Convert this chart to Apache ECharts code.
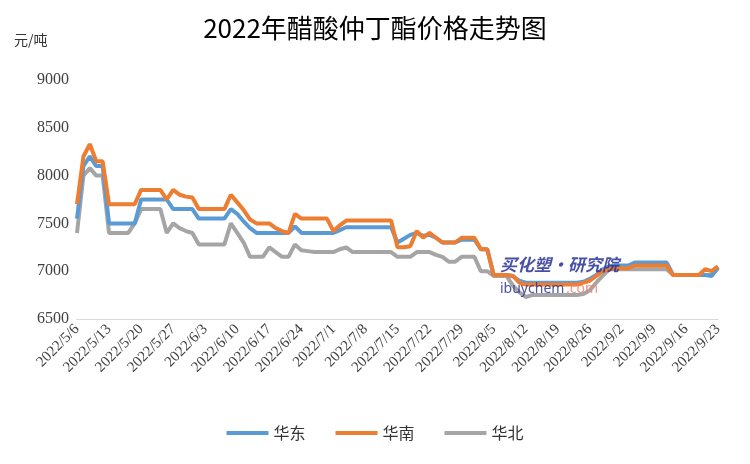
<!DOCTYPE html>
<html><head><meta charset="utf-8">
<script src="https://cdn.jsdelivr.net/npm/echarts@6/dist/echarts.min.js"></script>
<style>html,body{margin:0;padding:0;background:#fff}#c{width:750px;height:464px}</style>
</head><body><div id="c"></div>
<script>
const startDate = '2022-05-06';
const pointCount = 101;
const yTicks = [6500, 7000, 7500, 8000, 8500, 9000];
const huadong = [7550,8100,8200,8100,8100,7500,7500,7500,7500,7500,
7750,7750,7750,7750,7750,7650,7650,7650,7650,7550,
7550,7550,7550,7550,7650,7600,7520,7450,7400,7400,
7400,7400,7400,7400,7470,7400,7400,7400,7400,7400,
7400,7430,7460,7460,7460,7460,7460,7460,7460,7460,
7300,7340,7380,7400,7370,7380,7350,7300,7300,7300,
7330,7330,7330,7230,7230,6960,6960,6960,6950,6900,
6880,6880,6880,6880,6880,6880,6880,6880,6880,6890,
6920,6960,7020,7050,7060,7060,7060,7090,7090,7090,
7090,7090,7090,6960,6960,6960,6960,6960,6960,6950,7040];
const huanan = [7700,8200,8330,8150,8150,7700,7700,7700,7700,7700,
7850,7850,7850,7850,7750,7850,7800,7780,7770,7650,
7650,7650,7650,7650,7800,7720,7640,7540,7500,7500,
7500,7450,7420,7400,7600,7550,7550,7550,7550,7550,
7420,7480,7530,7530,7530,7530,7530,7530,7530,7530,
7250,7250,7260,7420,7350,7400,7350,7300,7300,7300,
7350,7350,7350,7230,7230,6960,6960,6960,6950,6880,
6860,6860,6860,6860,6860,6860,6860,6860,6860,6880,
6900,6950,7000,7020,7030,7030,7030,7060,7060,7060,
7060,7060,7060,6960,6960,6960,6960,6960,7020,7000,7050];
const huabei = [7400,8000,8080,8000,8000,7400,7400,7400,7400,7500,
7650,7650,7650,7650,7400,7500,7450,7420,7400,7280,
7280,7280,7280,7280,7500,7400,7300,7150,7150,7150,
7250,7200,7150,7150,7280,7220,7210,7200,7200,7200,
7200,7230,7250,7200,7200,7200,7200,7200,7200,7200,
7150,7150,7150,7200,7200,7200,7170,7150,7100,7100,
7150,7150,7150,7000,7000,6950,6950,6950,6850,6780,
6730,6750,6750,6750,6750,6750,6750,6750,6750,6760,
6800,6880,6950,7020,7020,7020,7020,7020,7020,7020,
7020,7020,7020,6960,6960,6960,6960,6960,6960,6960,7030];

const categories = [];
{ let d = new Date(startDate + 'T00:00:00');
  while (categories.length < pointCount) {
    const w = d.getDay();
    if (w !== 0 && w !== 6) categories.push(d.getFullYear() + '/' + (d.getMonth()+1) + '/' + d.getDate());
    d.setDate(d.getDate() + 1);
  } }

const serif = '"Liberation Serif","DejaVu Serif",serif';
const chart = echarts.init(document.getElementById('c'));
const mk = (name, data, color, z) => ({name, type:'line', data, symbol:'none', z,
  lineStyle:{width:4, color}, itemStyle:{color}});
chart.setOption({
  animation:false,
  title:{text:'2022年醋酸仲丁酯价格走势图', left:'center', top:10,
    textStyle:{fontFamily:'"Noto Sans CJK SC",serif', fontSize:26, fontWeight:'normal', color:'#000'}},
  graphic:[
    {type:'text', left:14, top:33, style:{text:'元/吨', font:'14px "Noto Sans CJK SC"', fill:'#333'}},
    {type:'text', left:500, top:256, z:100, style:{text:'买化塑·研究院', font:'italic bold 17px "Noto Sans CJK SC"', fill:'rgba(40,50,150,0.85)'}},
    {type:'text', left:500, top:282, z:100, style:{text:'ibuychem', font:'14px "Noto Sans"', fill:'rgba(40,50,150,0.85)'}},
    {type:'text', left:566, top:282, z:100, style:{text:'.com', font:'14px "Noto Sans"', fill:'rgba(240,130,110,0.85)'}}
  ],
  legend:{bottom:18, left:'center', itemWidth:42, itemHeight:4, itemGap:30,
    icon:'rect', textStyle:{fontFamily:'"Noto Sans CJK SC"', fontSize:16, color:'#333'}},
  grid:{left:77, right:32, top:80, bottom:145},
  xAxis:{type:'category', data:categories, boundaryGap:false,
    axisLine:{lineStyle:{color:'#d9d9d9'}}, axisTick:{show:false},
    axisLabel:{interval:4, rotate:45, fontFamily:serif, fontSize:15, color:'#404040', margin:8}},
  yAxis:{type:'value', min:yTicks[0], max:yTicks[yTicks.length-1], interval:500,
    splitLine:{show:false}, axisLine:{show:false}, axisTick:{show:false},
    axisLabel:{fontFamily:serif, fontSize:16, color:'#404040', formatter:v=>String(v)}},
  series:[mk('华东', huadong, '#5B9BD5', 3), mk('华南', huanan, '#ED7D31', 4), mk('华北', huabei, '#A5A5A5', 2)]
});
</script></body></html>
